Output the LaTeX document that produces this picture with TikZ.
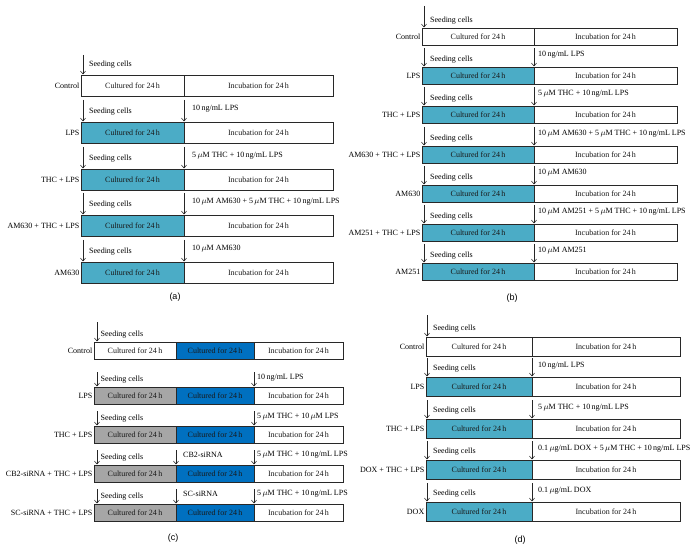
\documentclass[tikz,border=0pt]{standalone}
\usepackage{fontspec}
\setmainfont{Liberation Serif}
\newfontfamily\labfont{Liberation Sans}
\usetikzlibrary{arrows.meta}
\definecolor{teal1}{RGB}{75,172,198}
\definecolor{blue1}{RGB}{0,112,192}
\definecolor{grey1}{RGB}{166,166,166}
\definecolor{edge}{RGB}{40,40,40}
\tikzset{
 seg/.style={draw=edge, line width=0.6pt, inner sep=0pt, outer sep=0pt, anchor=north west, font=\fontsize{8}{9}\selectfont, text=black!90},
 lab/.style={inner sep=0pt, anchor=east, font=\fontsize{8}{9}\selectfont},
 txt/.style={inner sep=0pt, anchor=base west, font=\fontsize{8}{9}\selectfont},
 arr/.style={draw=black!85, line width=0.6pt, -{Straight Barb[length=2.8pt,width=5pt]}},
 plab/.style={inner sep=0pt, font=\labfont\fontsize{9}{10}\selectfont},
}
\newcommand\segbox[7]{\pgfmathsetmacro\segw{#3-#2}\node[seg,fill=#6,minimum width=\segw pt,minimum height=#5pt] (#1) at (#2,#4) {#7};}
\newcommand\tworow[8]{%
 \segbox{#1L}{#2}{#3}{#5}{#6}{#7}{Cultured for 24\,h}%
 \segbox{#1R}{#3}{#4}{#5}{#6}{white}{Incubation for 24\,h}%
 \node[lab] (#1T) at ([xshift=-1.5pt]#1L.west) {#8};}
\newcommand\threerow[4]{%
 \segbox{#1L}{94}{176}{#2}{17}{#3}{Cultured for 24\,h}%
 \segbox{#1M}{176}{254}{#2}{17}{blue1}{Cultured for 24\,h}%
 \segbox{#1R}{254}{343}{#2}{17}{white}{Incubation for 24\,h}%
 \node[lab] (#1T) at ([xshift=-1.5pt]#1L.west) {#4};}
\newcommand\putarrow[7]{%
 \draw[arr] ([xshift=#2pt,yshift=#3pt]#1) -- ([xshift=#2pt,yshift=0.6pt]#1);
 \pgfmathsetmacro\tx{#2+#4}%
 \node[txt] (#7) at ([xshift=\tx pt,yshift=#5pt]#1) {#6};}
\newcommand\um{\,$\mu$M}
\begin{document}
\begin{tikzpicture}[x=1pt,y=-1pt]
\useasboundingbox[fill=white] (0,0) rectangle (691,548);
% ---------- (a)
\tworow{a1}{81}{184}{333}{75}{21}{white}{Control}
\tworow{a2}{81}{184}{333}{122}{21}{teal1}{LPS}
\tworow{a3}{81}{184}{333}{169}{21}{teal1}{THC + LPS}
\tworow{a4}{81}{184}{333}{215}{21}{teal1}{AM630 + THC + LPS}
\tworow{a5}{81}{184}{333}{262}{21}{teal1}{AM630}
\putarrow{a1L.north west}{2}{20}{6}{8}{Seeding cells}{a1s}
\putarrow{a2L.north west}{2}{22}{6}{8}{Seeding cells}{a2s}
\putarrow{a3L.north west}{2}{22}{6}{8}{Seeding cells}{a3s}
\putarrow{a4L.north west}{2}{22}{6}{8}{Seeding cells}{a4s}
\putarrow{a5L.north west}{2}{22}{6}{8}{Seeding cells}{a5s}
\putarrow{a2L.north east}{0}{22}{8}{11.5}{10\,ng/mL LPS}{a2t}
\putarrow{a3L.north east}{0}{22}{8}{11.5}{5\um{} THC + 10\,ng/mL LPS}{a3t}
\putarrow{a4L.north east}{0}{22}{8}{11.5}{10\um{} AM630 + 5\um{} THC + 10\,ng/mL LPS}{a4t}
\putarrow{a5L.north east}{0}{22}{8}{11.5}{10\um{} AM630}{a5t}
\node[plab] (pa) at (175,297) {(a)};
% ---------- (b)
\tworow{b1}{422}{534}{677}{28}{17}{white}{Control}
\tworow{b2}{422}{534}{677}{67}{17}{teal1}{LPS}
\tworow{b3}{422}{534}{677}{106}{17}{teal1}{THC + LPS}
\tworow{b4}{422}{534}{677}{146}{17}{teal1}{AM630 + THC + LPS}
\tworow{b5}{422}{534}{677}{185}{17}{teal1}{AM630}
\tworow{b6}{422}{534}{677}{224}{17}{teal1}{AM251 + THC + LPS}
\tworow{b7}{422}{534}{677}{263}{17}{teal1}{AM251}
\putarrow{b1L.north west}{2}{22}{6}{5}{Seeding cells}{b1s}
\putarrow{b2L.north west}{2}{19}{6}{5}{Seeding cells}{b2s}
\putarrow{b3L.north west}{2}{19}{6}{5}{Seeding cells}{b3s}
\putarrow{b4L.north west}{2}{19}{6}{5}{Seeding cells}{b4s}
\putarrow{b5L.north west}{2}{19}{6}{5}{Seeding cells}{b5s}
\putarrow{b6L.north west}{2}{19}{6}{5}{Seeding cells}{b6s}
\putarrow{b7L.north west}{2}{19}{6}{5}{Seeding cells}{b7s}
\putarrow{b2L.north east}{0}{19}{4}{10}{10\,ng/mL LPS}{b2t}
\putarrow{b3L.north east}{0}{19}{4}{10}{5\um{} THC + 10\,ng/mL LPS}{b3t}
\putarrow{b4L.north east}{0}{19}{4}{10}{10\um{} AM630 + 5\um{} THC + 10\,ng/mL LPS}{b4t}
\putarrow{b5L.north east}{0}{19}{4}{10}{10\um{} AM630}{b5t}
\putarrow{b6L.north east}{0}{19}{4}{10}{10\um{} AM251 + 5\um{} THC + 10\,ng/mL LPS}{b6t}
\putarrow{b7L.north east}{0}{19}{4}{10}{10\um{} AM251}{b7t}
\node[plab] (pb) at (512,298) {(b)};
% ---------- (c)
\threerow{c1}{342}{white}{Control}
\threerow{c2}{387}{grey1}{LPS}
\threerow{c3}{426}{grey1}{THC + LPS}
\threerow{c4}{465}{grey1}{CB2-siRNA + THC + LPS}
\threerow{c5}{504}{grey1}{SC-siRNA + THC + LPS}
\putarrow{c1L.north west}{3}{20}{3.5}{5.5}{Seeding cells}{c1s}
\putarrow{c2L.north west}{3}{15}{3.5}{5.5}{Seeding cells}{c2s}
\putarrow{c3L.north west}{3}{15}{3.5}{5.5}{Seeding cells}{c3s}
\putarrow{c4L.north west}{3}{15}{3.5}{5.5}{Seeding cells}{c4s}
\putarrow{c5L.north west}{3}{15}{3.5}{5.5}{Seeding cells}{c5s}
\putarrow{c4L.north east}{0}{15}{7}{7.5}{CB2-siRNA}{c4m}
\putarrow{c5L.north east}{0}{15}{7}{7.5}{SC-siRNA}{c5m}
\putarrow{c2M.north east}{0}{15}{3}{8}{10\,ng/mL LPS}{c2t}
\putarrow{c3M.north east}{0}{15}{3}{8}{5\um{} THC + 10\um{} LPS}{c3t}
\putarrow{c4M.north east}{0}{15}{3}{9}{5\um{} THC + 10\,ng/mL LPS}{c4t}
\putarrow{c5M.north east}{0}{15}{3}{9}{5\um{} THC + 10\,ng/mL LPS}{c5t}
\node[plab] (pc) at (173,538) {(c)};
% ---------- (d)
\tworow{d1}{426}{532}{680}{337}{19}{white}{Control}
\tworow{d2}{426}{532}{680}{377}{19}{teal1}{LPS}
\tworow{d3}{426}{532}{680}{419}{19}{teal1}{THC + LPS}
\tworow{d4}{426}{532}{680}{460}{19}{teal1}{DOX + THC + LPS}
\tworow{d5}{426}{532}{680}{502}{19}{teal1}{DOX}
\putarrow{d1L.north west}{1}{22}{6}{7}{Seeding cells}{d1s}
\putarrow{d2L.north west}{1}{19}{6}{7}{Seeding cells}{d2s}
\putarrow{d3L.north west}{1}{19}{6}{7}{Seeding cells}{d3s}
\putarrow{d4L.north west}{1}{19}{6}{7}{Seeding cells}{d4s}
\putarrow{d5L.north west}{1}{19}{6}{7}{Seeding cells}{d5s}
\putarrow{d2L.north east}{0}{19}{6}{9.5}{10\,ng/mL LPS}{d2t}
\putarrow{d3L.north east}{0}{19}{6}{9.5}{5\um{} THC + 10\,ng/mL LPS}{d3t}
\putarrow{d4L.north east}{0}{19}{6}{9.5}{0.1\,$\mu$g/mL DOX + 5\um{} THC + 10\,ng/mL LPS}{d4t}
\putarrow{d5L.north east}{0}{19}{6}{9.5}{0.1\,$\mu$g/mL DOX}{d5t}
\node[plab] (pd) at (520,540) {(d)};
\end{tikzpicture}
\end{document}
